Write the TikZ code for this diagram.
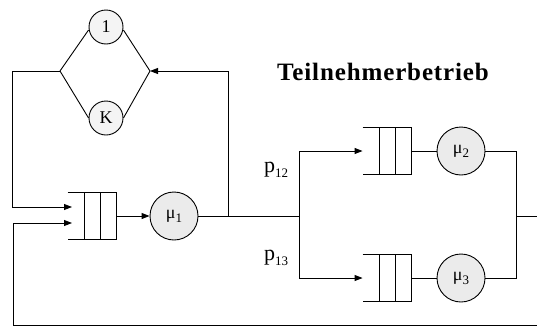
\documentclass[tikz,border=0pt]{standalone}
\usepackage{fontspec}
\setmainfont{Liberation Serif}
\usetikzlibrary{arrows.meta,calc}
\newcommand{\mysub}[3]{#1\raisebox{-#3}{\fontsize{13}{13}\selectfont #2}}
\newcommand{\drawqueue}[1]{%
  \draw (#1.north west) -- (#1.north east) -- (#1.south east) -- (#1.south west);
  \draw ($(#1.north west)+(17,0)$) -- ($(#1.south west)+(17,0)$);
  \draw ($(#1.north west)+(33,0)$) -- ($(#1.south west)+(33,0)$);}
\begin{document}
\begin{tikzpicture}[x=1pt,y=-1pt,line width=0.9pt,
  every node/.style={inner sep=0pt},
  srv/.style={circle,draw,fill=gray!16,minimum size=48pt,font=\fontsize{18}{18}\selectfont},
  thk/.style={circle,draw,fill=gray!9,minimum size=34pt,font=\fontsize{18}{18}\selectfont},
  qbox/.style={minimum width=48pt,minimum height=46pt,draw=none},
  arr/.style={-{Triangle[length=8pt,width=6pt]}},
  plabel/.style={font=\fontsize{22}{22}\selectfont},
  title/.style={font=\fontsize{25}{25}\selectfont\bfseries\addfontfeatures{LetterSpace=3.5}}]
\useasboundingbox (0,0) rectangle (537,327);
% think-time stations
\node[thk] (one) at (106,27) {1};
\node[thk] (kk) at (106,118) {K};
\coordinate (vl) at (60,71);
\coordinate (vr) at (150,71);
\draw (vl) -- ([yshift=-3pt]one.west);
\draw ([yshift=-3pt]one.east) -- (vr);
\draw (vl) -- (kk.west);
\draw (kk.east) -- (vr);
% queues and servers
\node[qbox] (q1) at (92,216) {};
\node[qbox] (q2) at (387,151) {};
\node[qbox] (q3) at (387,278) {};
\drawqueue{q1}
\drawqueue{q2}
\drawqueue{q3}
\node[srv] (m1) at (174,216) {\mysub{μ}{1}{4pt}};
\node[srv] (m2) at (461,151) {\mysub{μ}{2}{4pt}};
\node[srv] (m3) at (461,278) {\mysub{μ}{3}{4pt}};
% junctions
\coordinate (j1) at (228,216);
\coordinate (j2) at (299,216);
\coordinate (j3) at (516,216);
\coordinate (tr) at (228,71);
\coordinate (tl) at (12,71);
\coordinate (in1) at (72,207);
\coordinate (in2) at (72,223);
\coordinate (bl) at (13,325);
\coordinate (br) at (537,325);
\coordinate (outR) at (537,216);
% connectors
\draw[arr] (vl) -- (tl) |- (in1);
\draw[arr] (br) -- (bl) |- (in2);
\draw[arr] (q1.east) -- (m1.west);
\draw (m1.east) -- (j2);
\draw[arr] (j1) -- (tr) -- (vr);
\draw[arr] (j2) |- (q2.west);
\draw[arr] (j2) |- (q3.west);
\draw (q2.east) -- (m2.west);
\draw (q3.east) -- (m3.west);
\draw (m2.east) -| (j3);
\draw (m3.east) -| (j3);
\draw (j3) -- (outR);
% labels
\node[plabel] (p12) at (276,170) {\mysub{p}{12}{5pt}};
\node[plabel] (p13) at (276,258) {\mysub{p}{13}{5pt}};
\node[title] (ttl) at (383,72) {Teilnehmerbetrieb};
\end{tikzpicture}
\end{document}
